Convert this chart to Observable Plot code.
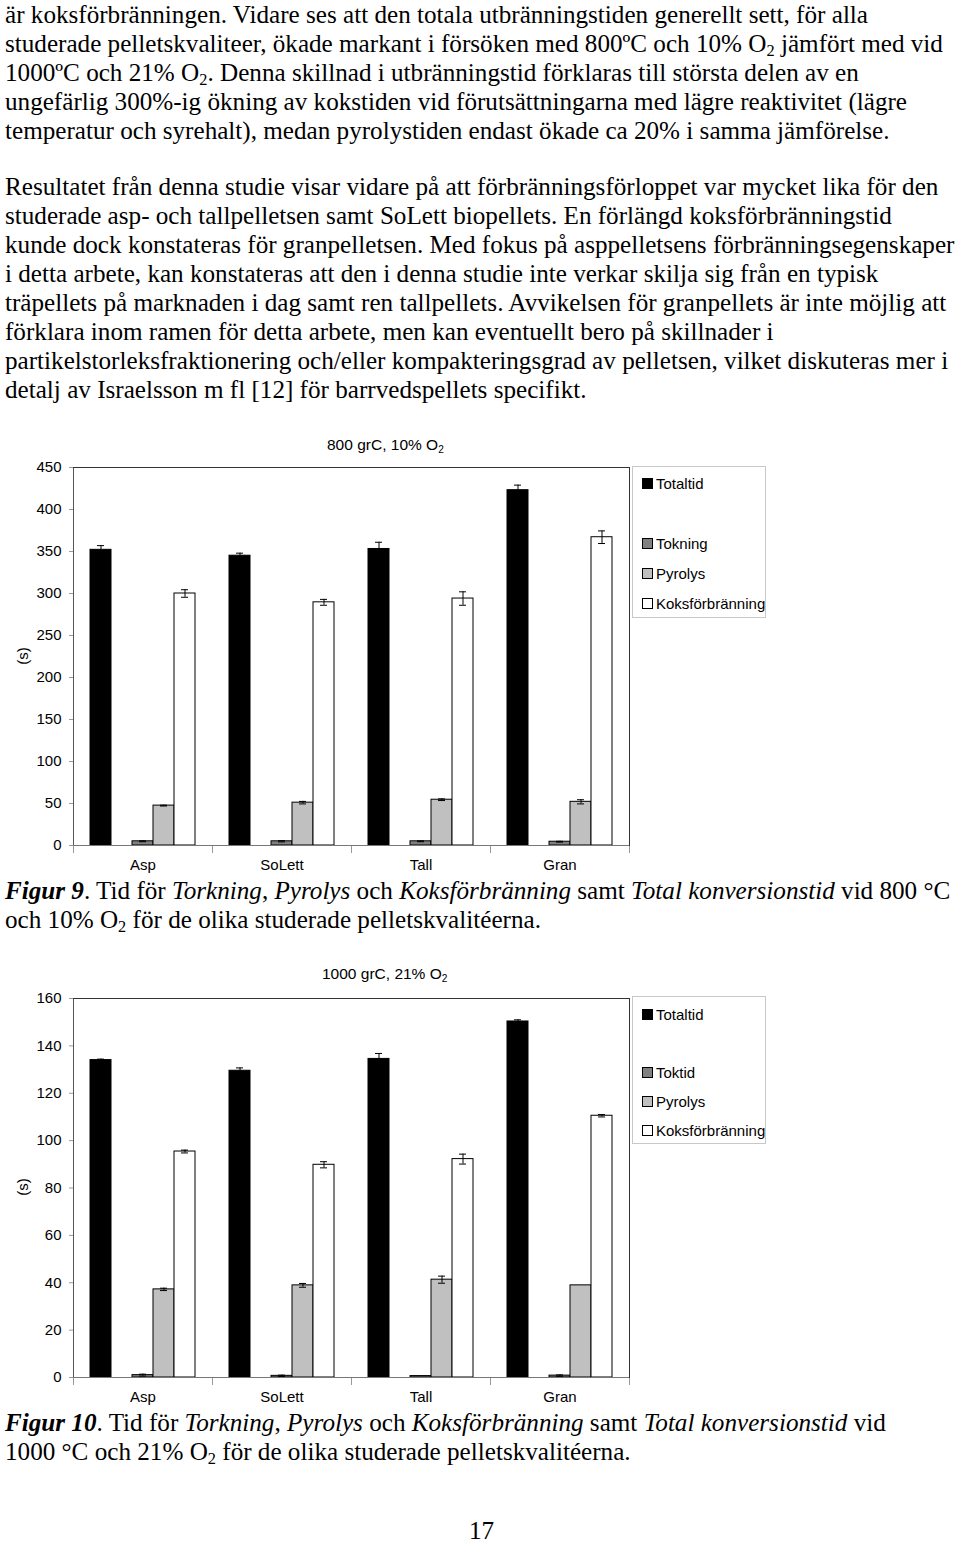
<!DOCTYPE html>
<html>
<head>
<meta charset="utf-8">
<script src="https://cdn.jsdelivr.net/npm/d3@7"></script>
<script src="https://cdn.jsdelivr.net/npm/@observablehq/plot@0.6"></script>
<style>
  html, body { margin: 0; padding: 0; background: #fff; }
  #page { position: relative; width: 960px; height: 1543px; overflow: hidden; }
  .txt { position: absolute; left: 5px; font-family: "Liberation Serif", "Times New Roman", serif; font-size: 25.15px; line-height: 29px; white-space: nowrap; color: #000; z-index: 2; }
  .txt sub, .ttl sub { font-size: 65%; vertical-align: -0.25em; line-height: 0; }
  .ttl { position: absolute; font-family: "Liberation Sans", Arial, sans-serif; font-size: 15.5px; white-space: nowrap; color: #000; z-index: 3; }
  .ylab { position: absolute; font-family: "Liberation Sans", Arial, sans-serif; font-size: 15px; color: #000; z-index: 3; transform: translate(-50%, -50%) rotate(-90deg); white-space: nowrap; }
  .chart { position: absolute; left: 0; z-index: 1; }
  .legend { position: absolute; left: 632px; width: 134px; border: 1px solid #c8c8c8; box-sizing: border-box; font-family: "Liberation Sans", Arial, sans-serif; font-size: 15px; color: #000; z-index: 3; background: #fff; }
  .legend .item { position: absolute; left: 9px; white-space: nowrap; line-height: 16px; }
  .legend .sw { display: inline-block; width: 9px; height: 9px; border: 1px solid #000; margin-right: 3px; vertical-align: 0px; }
</style>
</head>
<body>
<div id="page">
  <div class="txt" style="top:0px; line-height:29px; padding-top:0">är koksförbränningen. Vidare ses att den totala utbränningstiden generellt sett, för alla<br>studerade pelletskvaliteer, ökade markant i försöken med 800ºC och 10% O<sub>2</sub> jämfört med vid<br>1000ºC och 21% O<sub>2</sub>. Denna skillnad i utbränningstid förklaras till största delen av en<br>ungefärlig 300%-ig ökning av kokstiden vid förutsättningarna med lägre reaktivitet (lägre<br>temperatur och syrehalt), medan pyrolystiden endast ökade ca 20% i samma jämförelse.</div>
  <div class="txt" style="top:172px">Resultatet från denna studie visar vidare på att förbränningsförloppet var mycket lika för den<br>studerade asp- och tallpelletsen samt SoLett biopellets. En förlängd koksförbränningstid<br>kunde dock konstateras för granpelletsen. Med fokus på asppelletsens förbränningsegenskaper<br>i detta arbete, kan konstateras att den i denna studie inte verkar skilja sig från en typisk<br>träpellets på marknaden i dag samt ren tallpellets. Avvikelsen för granpellets är inte möjlig att<br>förklara inom ramen för detta arbete, men kan eventuellt bero på skillnader i<br>partikelstorleksfraktionering och/eller kompakteringsgrad av pelletsen, vilket diskuteras mer i<br>detalj av Israelsson m fl [12] för barrvedspellets specifikt.</div>

  <div class="chart" id="c1" style="top:430px"></div>
  <div class="ttl" style="left:327px; top:436px">800 grC, 10% O<sub>2</sub></div>
  <div class="ylab" style="left:22px; top:656px">(s)</div>
  <div class="legend" id="l1" style="top:466px; height:152px"></div>

  <div class="txt" style="top:876px"><b><i>Figur 9</i></b>. Tid för <i>Torkning</i>, <i>Pyrolys</i> och <i>Koksförbränning</i> samt <i>Total konversionstid</i> vid 800 °C<br>och 10% O<sub>2</sub> för de olika studerade pelletskvalitéerna.</div>

  <div class="chart" id="c2" style="top:961px"></div>
  <div class="ttl" style="left:322px; top:965px">1000 grC, 21% O<sub>2</sub></div>
  <div class="ylab" style="left:22px; top:1187px">(s)</div>
  <div class="legend" id="l2" style="top:996px; height:148px"></div>

  <div class="txt" style="top:1408px"><b><i>Figur 10</i></b>. Tid för <i>Torkning</i>, <i>Pyrolys</i> och <i>Koksförbränning</i> samt <i>Total konversionstid</i> vid<br>1000 °C och 21% O<sub>2</sub> för de olika studerade pelletskvalitéerna.</div>

  <div class="txt" style="top:1519px; left:469px; line-height:23px">17</div>
</div>
<script>
// ---------- data ----------
const categories = ["Asp", "SoLett", "Tall", "Gran"];
const slots = ["Totaltid", "(tom)", "Torkning", "Pyrolys", "Koksförbränning"];
const slotColors = ["#000000", "#ffffff", "#808080", "#c0c0c0", "#ffffff"];

const legend9 = ["Totaltid", "", "Tokning", "Pyrolys", "Koksförbränning"];
const legend10 = ["Totaltid", "", "Toktid", "Pyrolys", "Koksförbränning"];

// Figur 9: 800 grC, 10% O2
const totaltid9 = [352, 345, 353, 423];
const totaltid9Err = [5, 3, 8, 6];
const torkning9 = [5, 5, 5, 4.5];
const torkning9Err = [0.5, 0.7, 0.5, 0.5];
const pyrolys9 = [47.5, 51, 54.5, 52];
const pyrolys9Err = [0.5, 1.5, 1, 2.5];
const koks9 = [300, 289.5, 294, 367];
const koks9Err = [4.5, 3.5, 8, 7.5];

// Figur 10: 1000 grC, 21% O2
const totaltid10 = [134, 129.5, 134.5, 150.3];
const totaltid10Err = [0.4, 1.2, 2.3, 0.7];
const torkning10 = [1.0, 0.7, 0.6, 0.8];
const torkning10Err = [0.4, 0.3, 0, 0.3];
const pyrolys10 = [37.2, 38.9, 41.3, 38.9];
const pyrolys10Err = [0.5, 0.8, 1.5, 0];
const koks10 = [95.4, 89.8, 92.2, 110.5];
const koks10Err = [0.6, 1.3, 2.1, 0.5];

const yTicks9 = [0, 50, 100, 150, 200, 250, 300, 350, 400, 450];
const yTicks10 = [0, 20, 40, 60, 80, 100, 120, 140, 160];

// ---------- build ----------
function rowsFor(seriesList) {
  const rows = [];
  seriesList.forEach(([slot, vals, errs]) => {
    categories.forEach((c, i) => rows.push({cat: c, ser: slot, v: vals[i], e: errs[i]}));
  });
  return rows;
}

function makeChart(rows, yTicks, plotHeight) {
  const ymax = yTicks[yTicks.length - 1];
  const errRows = rows.filter(d => d.e > 0);
  return Plot.plot({
    width: 640,
    height: 37 + plotHeight + 35,
    marginLeft: 72,
    marginRight: 10,
    marginTop: 37,
    marginBottom: 35,
    style: {fontFamily: "Liberation Sans, Arial, sans-serif", fontSize: "15px", color: "#000", background: "transparent", overflow: "visible"},
    fx: {domain: categories, padding: 0, label: null},
    x: {domain: slots, paddingInner: 0, paddingOuter: 0.75, axis: null},
    y: {domain: [0, ymax], label: null},
    color: {domain: slots, range: slotColors},
    marks: [
      Plot.barY(rows, {fx: "cat", x: "ser", y: "v", fill: "ser", stroke: "#000", strokeWidth: 1}),
      Plot.ruleX(errRows, {fx: "cat", x: "ser", y1: d => d.v - d.e, y2: d => d.v + d.e, stroke: "#000", strokeWidth: 1}),
      Plot.tickY(errRows, {fx: "cat", x: "ser", y: d => d.v - d.e, stroke: "#000", strokeWidth: 1, insetLeft: 7, insetRight: 7}),
      Plot.tickY(errRows, {fx: "cat", x: "ser", y: d => d.v + d.e, stroke: "#000", strokeWidth: 1, insetLeft: 7, insetRight: 7}),
      // category boundary ticks below the axis
      Plot.frame({anchor: "left", insetTop: plotHeight, insetBottom: -7, stroke: "#999"}),
      Plot.frame({anchor: "right", insetTop: plotHeight, insetBottom: -7, stroke: "#999", facetAnchor: "right"}),
      // plot frame
      Plot.frame({anchor: "left", stroke: "#555", facetAnchor: "left"}),
      Plot.frame({anchor: "right", stroke: "#333", facetAnchor: "right"}),
      Plot.ruleY([0], {stroke: "#777", strokeWidth: 1.2}),
      Plot.ruleY([ymax], {stroke: "#333", strokeWidth: 1.2}),
      Plot.axisY({ticks: yTicks, tickSize: 4, tickPadding: 8, stroke: "#999", label: null, tickFormat: d => String(d)}),
      Plot.axisFx({anchor: "bottom", tickSize: 0, tickPadding: 14, label: null})
    ]
  });
}

document.getElementById("c1").appendChild(makeChart(rowsFor([
  ["Totaltid", totaltid9, totaltid9Err],
  ["Torkning", torkning9, torkning9Err],
  ["Pyrolys", pyrolys9, pyrolys9Err],
  ["Koksförbränning", koks9, koks9Err]
]), yTicks9, 378));

document.getElementById("c2").appendChild(makeChart(rowsFor([
  ["Totaltid", totaltid10, totaltid10Err],
  ["Torkning", torkning10, torkning10Err],
  ["Pyrolys", pyrolys10, pyrolys10Err],
  ["Koksförbränning", koks10, koks10Err]
]), yTicks10, 379));

function makeLegend(el, labels, tops) {
  labels.forEach((lab, i) => {
    if (!lab) return;
    const item = document.createElement("div");
    item.className = "item";
    item.style.top = tops[i] + "px";
    const sw = document.createElement("span");
    sw.className = "sw";
    sw.style.background = slotColors[i];
    item.appendChild(sw);
    item.appendChild(document.createTextNode(lab));
    el.appendChild(item);
  });
}
makeLegend(document.getElementById("l1"), legend9, [9, 39, 69, 99, 129]);
makeLegend(document.getElementById("l2"), legend10, [10, 39, 68, 97, 126]);
</script>
</body>
</html>
